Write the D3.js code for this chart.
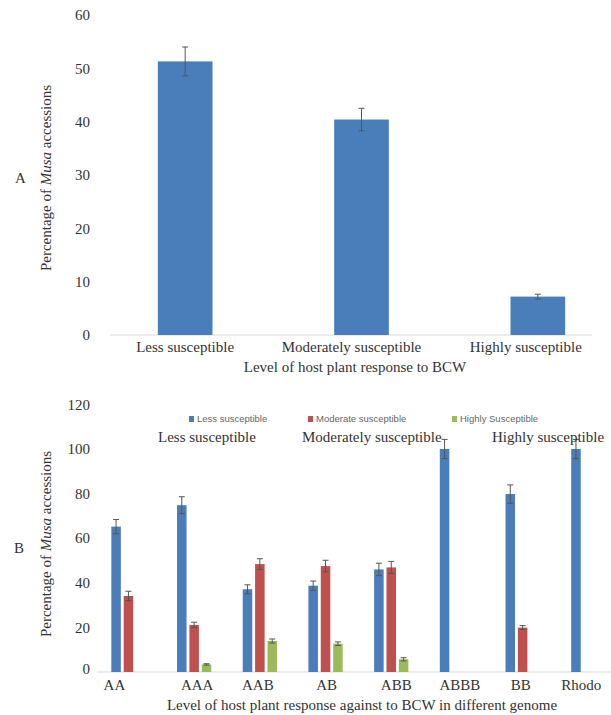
<!DOCTYPE html>
<html>
<head>
<meta charset="utf-8">
<style>
  body { margin: 0; background: #fff; }
  text { font-family: "Liberation Serif", "Times New Roman", serif; fill: #333; }
  .legend text { font-family: "Liberation Sans", Arial, sans-serif; fill: #666; }
</style>
</head>
<body>
<script src="https://cdnjs.cloudflare.com/ajax/libs/d3/7.8.5/d3.min.js"></script>
<script>
  /* global d3 */

  // ---- chart A data
  var levelsA = ["Less susceptible", "Moderately susceptible", "Highly susceptible"];
  var valuesA = [51.3, 40.4, 7.2];
  var errorsA = [2.7, 2.1, 0.45];
  var ticksA = [0, 10, 20, 30, 40, 50, 60];

  // ---- chart B data
  var genomes = ["AA", "AAA", "AAB", "AB", "ABB", "ABBB", "BB", "Rhodo"];
  var seriesNames = ["Less susceptible", "Moderate susceptible", "Highly Susceptible"];
  var lessB = [65.2, 74.8, 37.1, 38.7, 46.0, 100, 79.8, 100];
  var moderateB = [34.1, 21.1, 48.4, 47.5, 46.9, null, 19.9, null];
  var highlyB = [null, 3.4, 13.9, 12.7, 5.7, null, null, null];
  var lessErr = [3.2, 3.8, 2.0, 2.1, 2.8, 4.3, 4.1, 4.3];
  var moderateErr = [2.1, 1.2, 2.4, 2.6, 2.7, null, 0.9, null];
  var highlyErr = [null, 0.3, 0.9, 0.8, 0.7, null, null, null];
  var ticksB = [0, 20, 40, 60, 80, 100, 120];
  var labelShiftB = [-14, 3, -2, 1, 5, 3, -2, -7];

  var colors = ["#4a7ebb", "#c0504d", "#9bbb59"];

  var svg = d3.select("body").append("svg")
      .attr("width", 611)
      .attr("height", 715);

  function errorBar(g, x, yTop, yBot) {
    g.append("line").attr("x1", x).attr("x2", x).attr("y1", yTop).attr("y2", yBot)
      .attr("stroke", "#555").attr("stroke-width", 1);
    [yTop, yBot].forEach(function(yy) {
      g.append("line").attr("x1", x - 3).attr("x2", x + 3).attr("y1", yy).attr("y2", yy)
        .attr("stroke", "#555").attr("stroke-width", 1);
    });
  }

  // ================= chart A
  var gA = svg.append("g");
  var xA = d3.scaleBand().domain(levelsA).range([97, 626]).paddingInner(0.69).paddingOuter(0.345);
  var yA = d3.scaleLinear().domain([0, 60]).range([335, 15]);

  gA.append("line")
      .attr("x1", 110).attr("x2", 592)
      .attr("y1", yA(0)).attr("y2", yA(0))
      .attr("stroke", "#d9d9d9").attr("stroke-width", 1.2);

  gA.selectAll(".tickA").data(ticksA).enter().append("text")
      .attr("x", 90).attr("y", function(d) { return yA(d); })
      .attr("dy", "0.35em").attr("text-anchor", "end")
      .style("font-size", "15px")
      .text(function(d) { return d; });

  gA.selectAll(".barA").data(valuesA).enter().append("rect")
      .attr("x", function(d, i) { return xA(levelsA[i]); })
      .attr("y", function(d) { return yA(d); })
      .attr("width", xA.bandwidth())
      .attr("height", function(d) { return yA(0) - yA(d); })
      .attr("fill", colors[0]);

  valuesA.forEach(function(v, i) {
    var cx = xA(levelsA[i]) + xA.bandwidth() / 2;
    errorBar(gA, cx, yA(v + errorsA[i]), yA(v - errorsA[i]));
  });

  gA.selectAll(".catA").data(levelsA).enter().append("text")
      .attr("x", function(d, i) { return xA(d) + xA.bandwidth() / 2 + [0, -10, -12][i]; })
      .attr("y", 352)
      .attr("text-anchor", "middle")
      .style("font-size", "15px")
      .text(function(d) { return d; });

  gA.append("text")
      .attr("x", 355).attr("y", 372)
      .attr("text-anchor", "middle")
      .style("font-size", "15px")
      .text("Level of host plant response to BCW");

  var titleA = gA.append("text")
      .attr("transform", "translate(51,178) rotate(-90)")
      .attr("text-anchor", "middle")
      .style("font-size", "15px");
  titleA.append("tspan").text("Percentage of ");
  titleA.append("tspan").style("font-style", "italic").text("Musa");
  titleA.append("tspan").text(" accessions");

  gA.append("text").attr("x", 15).attr("y", 183).style("font-size", "15px").text("A");

  // ================= chart B
  var gB = svg.append("g");
  var x0 = d3.scaleBand().domain(genomes).range([95.6, 621.2]);
  var x1 = d3.scaleBand().domain([0, 1, 2]).range([0, x0.bandwidth()]).paddingInner(0.23).paddingOuter(1.27);
  var yB = d3.scaleLinear().domain([0, 120]).range([672, 404.4]);

  gB.append("line")
      .attr("x1", 97).attr("x2", 611)
      .attr("y1", yB(0)).attr("y2", yB(0))
      .attr("stroke", "#d9d9d9").attr("stroke-width", 1.2);

  gB.selectAll(".tickB").data(ticksB).enter().append("text")
      .attr("x", 90).attr("y", function(d) { return yB(d) - (d === 0 ? 3 : 0); })
      .attr("dy", "0.35em").attr("text-anchor", "end")
      .style("font-size", "15px")
      .text(function(d) { return d; });

  var seriesB = [lessB, moderateB, highlyB];
  var errB = [lessErr, moderateErr, highlyErr];

  seriesB.forEach(function(vals, s) {
    var rows = vals.map(function(v, i) { return { g: genomes[i], v: v, e: errB[s][i] }; })
      .filter(function(r) { return r.v !== null; });
    gB.selectAll(".bar" + s).data(rows).enter().append("rect")
        .attr("x", function(d) { return x0(d.g) + x1(s); })
        .attr("y", function(d) { return yB(d.v); })
        .attr("width", x1.bandwidth())
        .attr("height", function(d) { return yB(0) - yB(d.v); })
        .attr("fill", colors[s]);
    rows.forEach(function(d) {
      var cx = x0(d.g) + x1(s) + x1.bandwidth() / 2;
      errorBar(gB, cx, yB(d.v + d.e), yB(d.v - d.e));
    });
  });

  gB.selectAll(".catB").data(genomes).enter().append("text")
      .attr("x", function(d, i) { return x0(d) + x0.bandwidth() / 2 + labelShiftB[i]; })
      .attr("y", 690)
      .attr("text-anchor", "middle")
      .style("font-size", "15px")
      .text(function(d) { return d; });

  gB.append("text")
      .attr("x", 362).attr("y", 710)
      .attr("text-anchor", "middle")
      .style("font-size", "15px")
      .text("Level of host plant response against to BCW in different genome");

  var titleB = gB.append("text")
      .attr("transform", "translate(51,544) rotate(-90)")
      .attr("text-anchor", "middle")
      .style("font-size", "15px");
  titleB.append("tspan").text("Percentage of ");
  titleB.append("tspan").style("font-style", "italic").text("Musa");
  titleB.append("tspan").text(" accessions");

  gB.append("text").attr("x", 14).attr("y", 553).style("font-size", "15px").text("B");

  // legend
  var legendX = [189, 308, 452];
  var legend = gB.append("g").attr("class", "legend");
  seriesNames.forEach(function(name, i) {
    legend.append("rect").attr("x", legendX[i]).attr("y", 416).attr("width", 5).attr("height", 6)
      .attr("fill", colors[i]);
    legend.append("text").attr("x", legendX[i] + 8).attr("y", 422)
      .style("font-size", "9.5px").text(name);
  });

  // group annotations
  var notes = ["Less susceptible", "Moderately susceptible", "Highly susceptible"];
  var notesX = [158, 302, 492];
  gB.selectAll(".note").data(notes).enter().append("text")
      .attr("x", function(d, i) { return notesX[i]; })
      .attr("y", 442)
      .style("font-size", "15px")
      .text(function(d) { return d; });
</script>
</body>
</html>
